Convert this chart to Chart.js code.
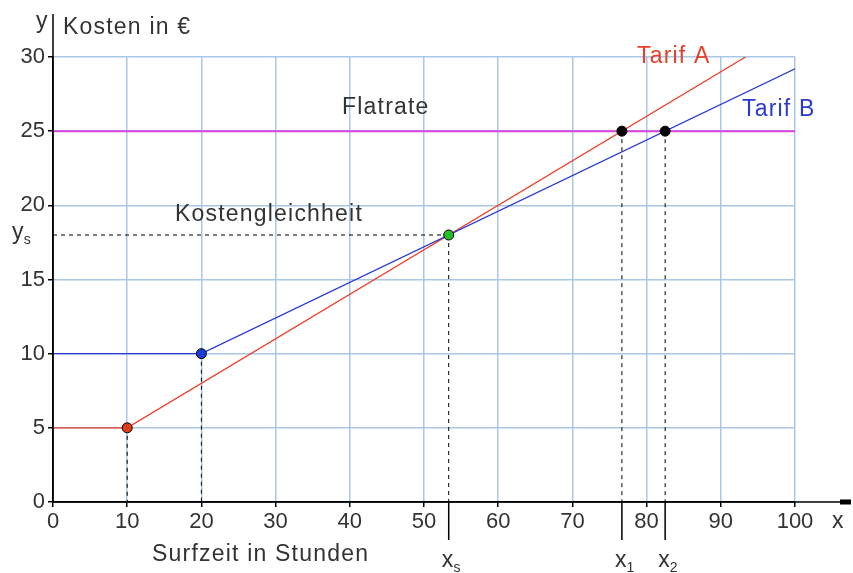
<!DOCTYPE html>
<html>
<head>
<meta charset="utf-8">
<script src="https://cdn.jsdelivr.net/npm/chart.js@4"></script>
<style>
  body { margin: 0; background: #fff; }
  #wrap { width: 853px; height: 573px; }
</style>
</head>
<body>
<div id="wrap"><canvas id="chart"></canvas></div>
<script>
// values
const xTicks = [0, 10, 20, 30, 40, 50, 60, 70, 80, 90, 100];
const yTicks = [0, 5, 10, 15, 20, 25, 30];

const tarifAX = [0, 10, 93.33];
const tarifAY = [5, 5, 30];
const tarifBX = [0, 20, 100];
const tarifBY = [10, 10, 29.2];
const flatX = [0, 100];
const flatY = [25, 25];

// special points: start of A, start of B, equal cost, A hits flat, B hits flat
const pointX = [10, 20, 53.33, 76.67, 82.5];
const pointY = [5, 10, 18, 25, 25];
const pointColors = ["#e03c1c", "#1c3cd8", "#22c02a", "#000000", "#000000"];

const xs = 53.33, ys = 18, x1 = 76.67, x2 = 82.5;

const FONT = "Liberation Sans, Arial, sans-serif";
const TEXT = "#333";

const toXY = (xa, ya) => xa.map((x, i) => ({ x: x, y: ya[i] }));

// dashed drop lines from the points to the axes
const dropLines = pointX.map((x, i) => ({
    data: [{ x: x, y: pointY[i] }, { x: x, y: 0 }],
    borderColor: "#000", borderWidth: 1, borderDash: [4, 4],
    showLine: true, pointRadius: 0, order: 5
}));
dropLines.push({
    data: [{ x: 0, y: ys }, { x: xs, y: ys }],
    borderColor: "#000", borderWidth: 1, borderDash: [4, 4],
    showLine: true, pointRadius: 0, order: 5
});

const extras = {
    id: "extras",
    afterDraw(chart) {
        const ctx = chart.ctx;
        const sx = chart.scales.x, sy = chart.scales.y;
        const area = chart.chartArea;
        const X = v => sx.getPixelForValue(v);
        const Y = v => sy.getPixelForValue(v);
        ctx.save();

        // extended axes
        ctx.strokeStyle = "#000";
        ctx.lineWidth = 1.5;
        ctx.beginPath();
        ctx.moveTo(area.left, area.bottom);
        ctx.lineTo(842, area.bottom);
        ctx.moveTo(area.left, area.bottom);
        ctx.lineTo(area.left, 14);
        ctx.stroke();
        ctx.fillStyle = "#000";
        ctx.fillRect(840, area.bottom - 2.5, 11, 5);

        // long marks below the axis
        ctx.beginPath();
        [xs, x1, x2].forEach(v => {
            ctx.moveTo(X(v), area.bottom);
            ctx.lineTo(X(v), area.bottom + 38);
        });
        ctx.stroke();

        ctx.fillStyle = TEXT;
        ctx.font = "23px " + FONT;
        ctx.letterSpacing = "1.2px";
        ctx.textBaseline = "middle";

        ctx.textAlign = "left";
        ctx.fillText("Kosten in €", area.left + 10, 28);
        ctx.fillText("y", area.left - 17, 22);
        ctx.fillText("x", 832, 522);
        ctx.fillText("Surfzeit in Stunden", 152, 555);
        ctx.fillText("Flatrate", 342, Y(26.6));
        ctx.fillText("Kostengleichheit", 175, Y(19.35));

        ctx.fillStyle = "#e8402a";
        ctx.fillText("Tarif A", 637, Y(30.0));
        ctx.fillStyle = "#2a3ad0";
        ctx.fillText("Tarif B", 742, Y(26.45));

        // subscript labels
        ctx.fillStyle = TEXT;
        const sub = (main, s, x, y) => {
            ctx.font = "23px " + FONT;
            const w = ctx.measureText(main).width;
            ctx.fillText(main, x, y);
            ctx.font = "14px " + FONT;
            ctx.fillText(s, x + w - 1, y + 7);
        };
        sub("x", "s", X(xs) - 7, 561);
        sub("x", "1", X(x1) - 7, 561);
        sub("x", "2", X(x2) - 7, 561);
        sub("y", "s", 12, Y(ys) - 2);

        ctx.restore();
    }
};

new Chart(document.getElementById("chart"), {
    type: "scatter",
    data: {
        datasets: [
            { data: toXY(flatX, flatY), borderColor: "#dc46dc", borderWidth: 2, showLine: true, pointRadius: 0, order: 4 },
            { data: toXY(tarifAX, tarifAY), borderColor: "#e8402a", borderWidth: 1.3, showLine: true, pointRadius: 0, order: 3 },
            { data: toXY(tarifBX, tarifBY), borderColor: "#2a3ad0", borderWidth: 1.3, showLine: true, pointRadius: 0, order: 2 },
            ...dropLines,
            {
                data: toXY(pointX, pointY),
                backgroundColor: pointColors,
                borderColor: "#000", borderWidth: 1,
                pointRadius: 5, showLine: false, order: 0
            }
        ]
    },
    options: {
        responsive: true,
        maintainAspectRatio: false,
        animation: false,
        layout: { padding: { top: 57, right: 58, left: 0, bottom: 0 } },
        plugins: { legend: { display: false }, tooltip: { enabled: false } },
        scales: {
            x: {
                type: "linear", min: 0, max: 100,
                afterBuildTicks: s => { s.ticks = xTicks.map(v => ({ value: v })); },
                afterFit: s => { s.height = 71; },
                grid: { color: "#a8c8e6", lineWidth: 1.5, tickColor: "#000", tickLength: 5 },
                border: { color: "#000", width: 1.5 },
                ticks: { color: TEXT, font: { family: FONT, size: 22 }, padding: 2, maxRotation: 0, autoSkip: false }
            },
            y: {
                min: 0, max: 30,
                afterBuildTicks: s => { s.ticks = yTicks.map(v => ({ value: v })); },
                afterFit: s => { s.width = 53; },
                grid: { color: "#a8c8e6", lineWidth: 1.5, tickColor: "#000", tickLength: 5 },
                border: { color: "#000", width: 1.5 },
                ticks: { color: TEXT, font: { family: FONT, size: 22 }, padding: 3 }
            }
        }
    },
    plugins: [extras]
});
</script>
</body>
</html>
